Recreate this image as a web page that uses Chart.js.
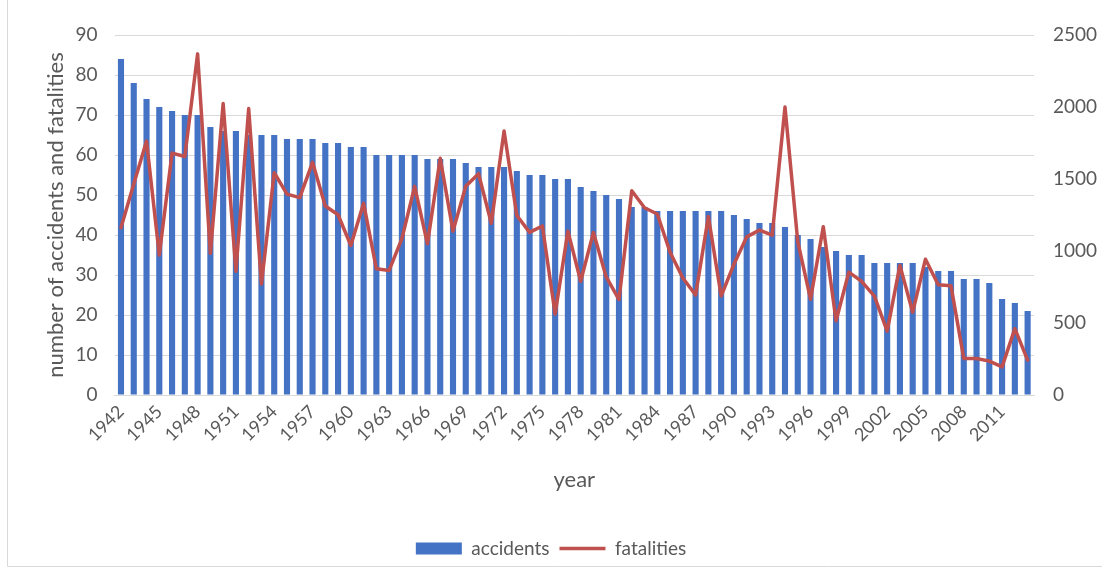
<!DOCTYPE html>
<html>
<head>
<meta charset="utf-8">
<script src="https://cdn.jsdelivr.net/npm/chart.js@4.4.1/dist/chart.umd.min.js"></script>
<style>
  html, body { margin: 0; padding: 0; background: #ffffff; }
  #wrap { width: 1102px; height: 576px; position: relative; }
</style>
</head>
<body>
<div id="wrap"><canvas id="c"></canvas></div>
<script>
// Yearly air accidents (left axis) and fatalities (right axis), 1942-2013
const years = [
  1942, 1943, 1944, 1945, 1946, 1947, 1948, 1949, 1950, 1951, 1952, 1953,
  1954, 1955, 1956, 1957, 1958, 1959, 1960, 1961, 1962, 1963, 1964, 1965,
  1966, 1967, 1968, 1969, 1970, 1971, 1972, 1973, 1974, 1975, 1976, 1977,
  1978, 1979, 1980, 1981, 1982, 1983, 1984, 1985, 1986, 1987, 1988, 1989,
  1990, 1991, 1992, 1993, 1994, 1995, 1996, 1997, 1998, 1999, 2000, 2001,
  2002, 2003, 2004, 2005, 2006, 2007, 2008, 2009, 2010, 2011, 2012, 2013
];

const accidents = [
  84, 78, 74, 72, 71, 70, 70, 67, 66, 66, 65, 65,
  65, 64, 64, 64, 63, 63, 62, 62, 60, 60, 60, 60,
  59, 59, 59, 58, 57, 57, 57, 56, 55, 55, 54, 54,
  52, 51, 50, 49, 47, 47, 46, 46, 46, 46, 46, 46,
  45, 44, 43, 43, 42, 40, 39, 37, 36, 35, 35, 33,
  33, 33, 33, 32, 31, 31, 29, 29, 28, 24, 23, 21
];

const fatalities = [
  1162, 1466, 1763, 972, 1680, 1656, 2369, 984, 2024, 860, 1989, 770,
  1544, 1395, 1371, 1616, 1312, 1252, 1038, 1331, 877, 865, 1086, 1449,
  1050, 1644, 1138, 1449, 1537, 1193, 1834, 1247, 1129, 1174, 563, 1138,
  790, 1129, 820, 663, 1418, 1300, 1257, 991, 813, 694, 1240, 687,
  908, 1098, 1145, 1110, 2000, 1065, 665, 1169, 516, 853, 789, 687,
  444, 900, 575, 943, 765, 758, 254, 254, 235, 195, 461, 242
];

// Axis ranges and tick steps
const accidentTicks = { min: 0, max: 90, step: 10 };
const fatalityTicks = { min: 0, max: 2500, step: 500 };
const labelEvery = 3;

const textGrey = '#595959';
const gridGrey = '#d9d9d9';
const fontFamily = 'Lato, "Open Sans", sans-serif';

// White page with a thin light frame round the chart
const framePlugin = {
  id: 'frame',
  beforeDraw(chart) {
    const ctx = chart.ctx;
    ctx.save();
    ctx.fillStyle = '#ffffff';
    ctx.fillRect(0, 0, chart.width, chart.height);
    ctx.strokeStyle = '#d9d9d9';
    ctx.lineWidth = 1;
    ctx.beginPath();
    ctx.moveTo(7.5, 0);
    ctx.lineTo(7.5, 566.5);
    ctx.lineTo(1102, 566.5);
    ctx.stroke();
    ctx.restore();
  }
};

new Chart(document.getElementById('c'), {
  data: {
    labels: years,
    datasets: [
      {
        type: 'bar',
        label: 'accidents',
        data: accidents,
        yAxisID: 'y',
        backgroundColor: '#4472C4',
        borderWidth: 0,
        barPercentage: 0.48,
        categoryPercentage: 1.0,
        pointStyle: 'rect',
        order: 2
      },
      {
        type: 'line',
        label: 'fatalities',
        data: fatalities,
        yAxisID: 'y1',
        borderColor: '#C0504D',
        backgroundColor: '#C0504D',
        borderWidth: 3.5,
        tension: 0,
        pointRadius: 0,
        pointHoverRadius: 0,
        pointStyle: 'line',
        borderJoinStyle: 'round',
        borderCapStyle: 'round',
        order: 1
      }
    ]
  },
  options: {
    responsive: true,
    maintainAspectRatio: false,
    animation: false,
    layout: { padding: { top: 35, left: 0, right: 0, bottom: 8 } },
    plugins: {
      tooltip: { enabled: false },
      legend: {
        position: 'bottom',
        labels: {
          usePointStyle: true,
          pointStyleWidth: 46,
          boxHeight: 12,
          padding: 10,
          color: textGrey,
          font: { family: fontFamily, size: 19 },
          sort: (a, b) => a.datasetIndex - b.datasetIndex
        }
      }
    },
    scales: {
      x: {
        grid: { display: false, drawTicks: false },
        border: { display: true, color: gridGrey, width: 1 },
        ticks: {
          autoSkip: false,
          minRotation: 45,
          maxRotation: 45,
          padding: 6,
          color: textGrey,
          font: { family: fontFamily, size: 18 },
          callback: (value, index) => (index % labelEvery === 0 ? String(years[index]) : '')
        },
        title: {
          display: true,
          text: 'year',
          color: textGrey,
          font: { family: fontFamily, size: 22 },
          padding: { top: 0, bottom: 36 }
        },
        afterFit: (scale) => { scale.height = 134; }
      },
      y: {
        position: 'left',
        min: accidentTicks.min,
        max: accidentTicks.max,
        grid: { color: gridGrey, lineWidth: 1, drawTicks: false },
        border: { display: false },
        ticks: {
          stepSize: accidentTicks.step,
          padding: 17,
          color: textGrey,
          font: { family: fontFamily, size: 19 }
        },
        title: {
          display: true,
          text: 'number of accidents and fatalities',
          color: textGrey,
          font: { family: fontFamily, size: 22 },
          padding: { top: 43, bottom: 0 }
        },
        afterFit: (scale) => { scale.width = 114.6; }
      },
      y1: {
        position: 'right',
        min: fatalityTicks.min,
        max: fatalityTicks.max,
        grid: { display: false, drawTicks: false },
        border: { display: false },
        ticks: {
          stepSize: fatalityTicks.step,
          padding: 19,
          color: textGrey,
          font: { family: fontFamily, size: 19 },
          callback: (value) => String(value)
        },
        afterFit: (scale) => { scale.width = 68; }
      }
    }
  },
  plugins: [framePlugin]
});
</script>
</body>
</html>
